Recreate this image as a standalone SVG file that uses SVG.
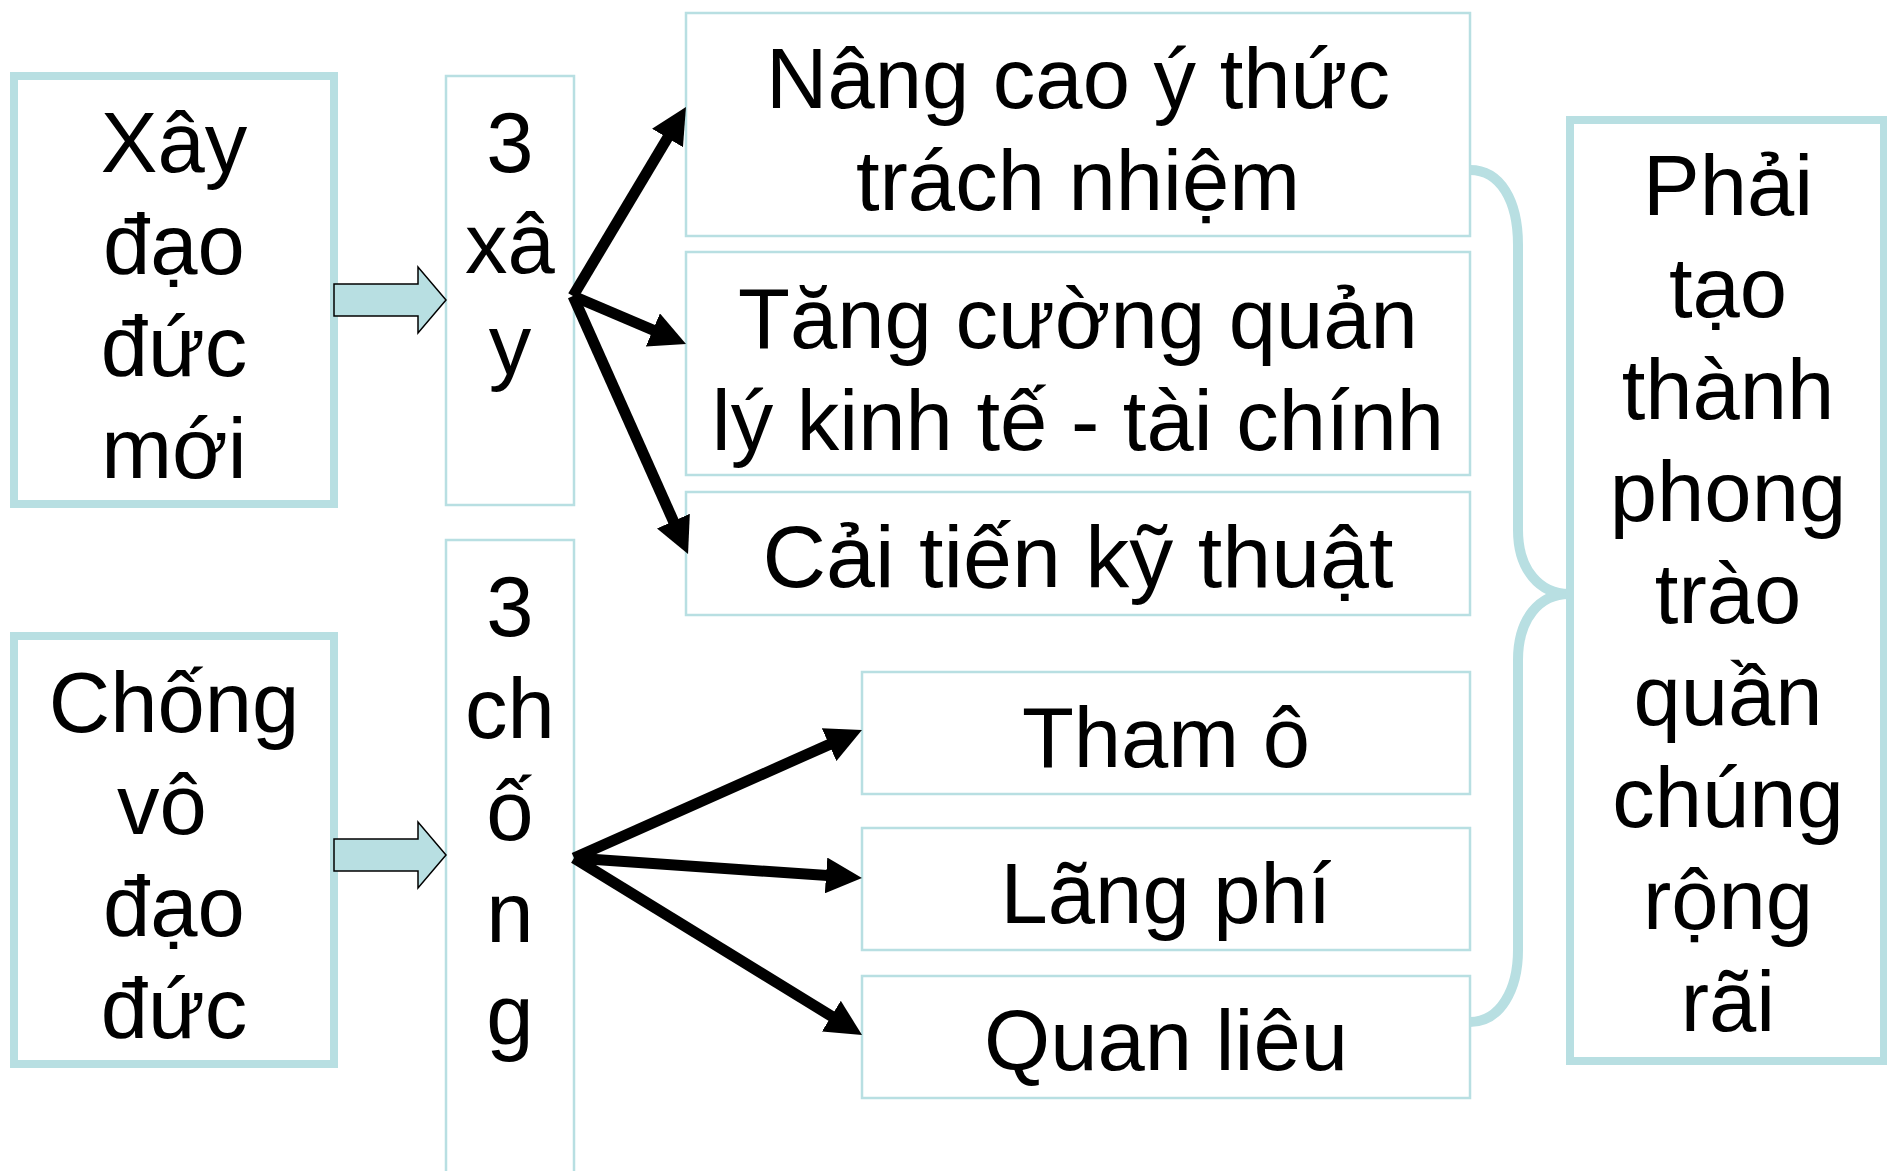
<svg xmlns="http://www.w3.org/2000/svg" width="1887" height="1171" viewBox="0 0 1887 1171">
<style>
text{font-family:"Liberation Sans",Arial,sans-serif;font-size:85px;fill:#000;text-anchor:middle}
.thick{fill:#fff;stroke:#B8DFE2;stroke-width:8}
.thin{fill:#fff;stroke:#B8DFE2;stroke-width:2.5}
.blk{fill:#B8DFE2;stroke:#000;stroke-width:1.5}
.con{stroke:#000;stroke-width:11;fill:none;marker-end:url(#ah)}
.brace{fill:none;stroke:#B8DFE2;stroke-width:10}
</style>
<defs>
<marker id="ah" markerUnits="userSpaceOnUse" markerWidth="36" markerHeight="36" viewBox="0 0 36 36" refX="16" refY="18" orient="auto">
<path d="M0,0 L36,18 L0,36 z" fill="#000"/>
</marker>
</defs>
<rect width="1887" height="1171" fill="#fff"/>

<g id="node-xay-dao-duc">
<rect class="thick" x="14" y="76" width="320" height="428"/>
<text x="174" y="172">Xây</text>
<text x="174" y="274">đạo</text>
<text x="174" y="376">đức</text>
<text x="174" y="478">mới</text>
</g>

<g id="node-chong-vo-dao-duc">
<rect class="thick" x="14" y="636" width="320" height="428"/>
<text x="174" y="732">Chống</text>
<text x="162" y="834">vô</text>
<text x="174" y="936">đạo</text>
<text x="174" y="1038">đức</text>
</g>

<g id="node-3-xay">
<rect class="thin" x="446" y="76" width="128" height="429"/>
<text x="510" y="172">3</text>
<text x="510" y="273">xâ</text>
<text x="510" y="374">y</text>
</g>

<g id="node-3-chong">
<rect class="thin" x="446" y="540" width="128" height="660"/>
<text x="510" y="636">3</text>
<text x="510" y="738">ch</text>
<text x="510" y="840">ố</text>
<text x="510" y="942">n</text>
<text x="510" y="1044">g</text>
</g>

<g id="node-nang-cao">
<rect class="thin" x="686" y="13" width="784" height="223"/>
<text x="1078" y="108">Nâng cao ý thức</text>
<text x="1078" y="210">trách nhiệm</text>
</g>

<g id="node-tang-cuong">
<rect class="thin" x="686" y="252" width="784" height="223"/>
<text x="1078" y="348">Tăng cường quản</text>
<text x="1078" y="450">lý kinh tế - tài chính</text>
</g>

<g id="node-cai-tien">
<rect class="thin" x="686" y="492" width="784" height="123"/>
<text x="1078" y="587" style="font-size:88px">Cải tiến kỹ thuật</text>
</g>

<g id="node-tham-o">
<rect class="thin" x="862" y="672" width="608" height="122"/>
<text x="1166" y="767">Tham ô</text>
</g>

<g id="node-lang-phi">
<rect class="thin" x="862" y="828" width="608" height="122"/>
<text x="1166" y="923">Lãng phí</text>
</g>

<g id="node-quan-lieu">
<rect class="thin" x="862" y="976" width="608" height="122"/>
<text x="1166" y="1070">Quan liêu</text>
</g>

<g id="node-phai-tao">
<rect class="thick" x="1570" y="120" width="314" height="941"/>
<text x="1728" y="215">Phải</text>
<text x="1728" y="317">tạo</text>
<text x="1728" y="419">thành</text>
<text x="1728" y="521">phong</text>
<text x="1728" y="623">trào</text>
<text x="1728" y="725">quần</text>
<text x="1728" y="827">chúng</text>
<text x="1728" y="929">rộng</text>
<text x="1728" y="1031">rãi</text>
</g>

<g id="connectors">
<path class="blk" d="M334,284 L418,284 L418,267 L446,300 L418,333 L418,316 L334,316 Z"/>
<path class="blk" d="M334,839 L418,839 L418,822 L446,855 L418,888 L418,871 L334,871 Z"/>
<line class="con" x1="573" y1="296" x2="675.7" y2="124.2"/>
<line class="con" x1="573" y1="296" x2="667.6" y2="336.2"/>
<line class="con" x1="573" y1="296" x2="679.9" y2="535.7"/>
<line class="con" x1="574" y1="858" x2="843.7" y2="738.1"/>
<line class="con" x1="574" y1="858" x2="842.0" y2="876.6"/>
<line class="con" x1="574" y1="858" x2="845.0" y2="1024.5"/>
<path class="brace" d="M1470,170 C1500,170 1518,200 1518,245 L1518,530 C1518,570 1540,594 1569,594 C1540,594 1518,618 1518,660 L1518,950 C1518,990 1500,1022 1470,1022"/>
</g>
</svg>
